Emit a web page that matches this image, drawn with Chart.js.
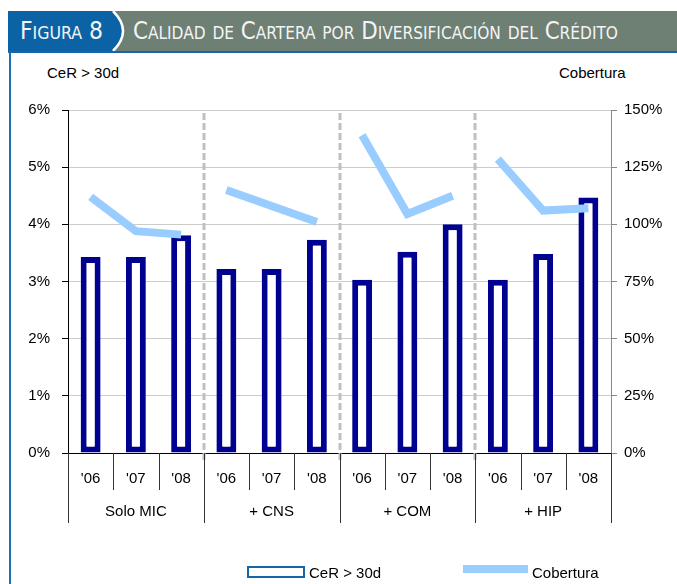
<!DOCTYPE html>
<html>
<head>
<meta charset="utf-8">
<title>Calidad de Cartera por Diversificación del Crédito</title>
<script src="https://cdn.jsdelivr.net/npm/chart.js@4.4.1/dist/chart.umd.min.js"></script>
<style>
body { margin: 0; width: 677px; height: 584px; overflow: hidden; background: #fff; position: relative;
       font-family: "Liberation Sans", Arial, sans-serif; }
#head { position: absolute; left: 8px; top: 11px; width: 669px; height: 40px; background: #6e7f74; }
#head svg { position: absolute; left: 0; top: 0; }
#headLine { position: absolute; left: 8px; top: 51px; width: 669px; height: 2px; background: #1466a8; }
#frame { position: absolute; left: 9px; top: 51px; width: 2px; height: 533px; background: #1a6fb5; }
.ttl { position: absolute; color: #f4f4f4; font-family: "Liberation Sans Narrow", "DejaVu Sans Condensed", sans-serif;
       font-variant: small-caps; font-size: 25px; line-height: 40px; top: 0; white-space: nowrap; transform-origin: 0 50%; }
.lbl { position: absolute; font-size: 15px; color: #000; white-space: nowrap; }
#chartBox { position: absolute; left: 0; top: 0; width: 677px; height: 584px; }
</style>
</head>
<body>
<div id="head">
  <svg width="130" height="40">
    <path d="M0,0 H105 Q125,20 105,40 H0 Z" fill="#0b63a6"/>
    <path d="M105,0 Q125,20 105,40" fill="none" stroke="#fff" stroke-width="2.5"/>
  </svg>
  <div class="ttl" id="t1" style="left:12px">Figura 8</div>
  <div class="ttl" id="t2" style="left:125px">Calidad de Cartera por Diversificación del Crédito</div>
</div>
<div id="headLine"></div>
<div id="frame"></div>
<div class="lbl" style="left:47px; top:64px">CeR &gt; 30d</div>
<div class="lbl" style="left:559px; top:64px">Cobertura</div>

<div id="chartBox"><canvas id="myChart" width="677" height="584"></canvas></div>

<div style="position:absolute; left:247px; top:566px; width:54px; height:8px; border:2px solid #1566a8; background:#fff"></div>
<div class="lbl" style="left:309px; top:564px">CeR &gt; 30d</div>
<div style="position:absolute; left:463px; top:565px; width:65px; height:8px; background:#99ccff"></div>
<div class="lbl" style="left:532px; top:564px">Cobertura</div>

<script>
// data
const groups = ['Solo MIC', '+ CNS', '+ COM', '+ HIP'];
const years = ["'06", "'07", "'08"];
const cer = [3.43, 3.43, 3.81, 3.22, 3.22, 3.73, 3.03, 3.52, 4.0, 3.03, 3.48, 4.47];   // CeR > 30d, %
const cobSoloMic = [112, 97, 95.5];   // Cobertura, %
const cobCns = [115, 108, 101];
const cobCom = [139, 104.5, 112.5];
const cobHip = [128.5, 106, 107];
const yTicks = [0, 1, 2, 3, 4, 5, 6];

// fit header titles to their width in the picture
function fit(id, w) {
    const el = document.getElementById(id);
    el.style.transform = 'scaleX(' + (w / el.getBoundingClientRect().width) + ')';
}
fit('t1', 83);
fit('t2', 485);

const labels = [];
groups.forEach(() => years.forEach(y => labels.push(y)));

const cob = [cobSoloMic, cobCns, cobCom, cobHip];
const lineSets = cob.map((vals, g) => {
    const arr = labels.map(() => null);
    vals.forEach((v, i) => { arr[g * 3 + i] = v; });
    return {
        type: 'line',
        label: 'Cobertura',
        data: arr,
        yAxisID: 'y1',
        borderColor: '#99ccff',
        borderWidth: 8,
        pointRadius: 0,
        pointHoverRadius: 0,
        spanGaps: false,
        fill: false,
        tension: 0,
        order: 0
    };
});

// separators and group names under the axis
const groupAxis = {
    id: 'groupAxis',
    afterDraw(chart) {
        const ctx = chart.ctx, x = chart.scales.x, a = chart.chartArea;
        const step = x.getPixelForValue(1) - x.getPixelForValue(0);
        ctx.save();
        ctx.strokeStyle = '#c0c0c0';
        ctx.lineWidth = 3;
        ctx.setLineDash([7, 3]);
        for (let g = 1; g < groups.length; g++) {
            const px = Math.round(x.getPixelForValue(g * 3) - step / 2);
            ctx.beginPath(); ctx.moveTo(px, a.top + 3); ctx.lineTo(px, a.bottom + 10); ctx.stroke();
        }
        ctx.setLineDash([]);
        ctx.strokeStyle = '#333';
        ctx.lineWidth = 1;
        for (let i = 0; i <= labels.length; i++) {
            const px = Math.round(x.getPixelForValue(i) - step / 2) + 0.5;
            const len = i % 3 === 0 ? 70 : 37;
            ctx.beginPath(); ctx.moveTo(px, a.bottom); ctx.lineTo(px, a.bottom + len); ctx.stroke();
        }
        ctx.fillStyle = '#000';
        ctx.font = '15px "Liberation Sans", Arial, sans-serif';
        ctx.textAlign = 'center';
        ctx.textBaseline = 'middle';
        groups.forEach((g, i) => {
            ctx.fillText(g, x.getPixelForValue(i * 3 + 1), a.bottom + 59);
        });
        ctx.restore();
    }
};

const data = {
    labels: labels,
    datasets: [{
        type: 'bar',
        label: 'CeR > 30d',
        data: cer,
        yAxisID: 'y',
        backgroundColor: '#ffffff',
        borderColor: '#000091',
        borderWidth: 6,
        borderSkipped: false,
        barPercentage: 0.44,
        categoryPercentage: 1,
        order: 2
    }].concat(lineSets)
};

const config = {
    type: 'bar',
    data,
    plugins: [groupAxis],
    options: {
        responsive: false,
        animation: false,
        layout: { padding: { top: 110, left: 0, right: 0, bottom: 0 } },
        plugins: { legend: { display: false }, tooltip: { enabled: false } },
        scales: {
            x: {
                grid: { display: false, drawTicks: false },
                border: { color: '#000', width: 1 },
                ticks: { color: '#000', font: { size: 15 }, padding: 17, maxRotation: 0, autoSkip: false },
                afterFit: s => { s.height = 131; }
            },
            y: {
                position: 'left',
                min: 0, max: 6,
                afterBuildTicks: s => { s.ticks = yTicks.map(v => ({ value: v })); },
                ticks: { color: '#000', font: { size: 15 }, padding: 12, callback: v => v + '%' },
                grid: { color: '#cccccc', tickColor: '#000', tickLength: 6 },
                border: { color: '#000' },
                afterFit: s => { s.width = 68; }
            },
            y1: {
                position: 'right',
                min: 0, max: 150,
                ticks: { stepSize: 25, color: '#000', font: { size: 15 }, padding: 7, callback: v => v + '%' },
                grid: { drawOnChartArea: false, tickColor: '#888', tickLength: 6 },
                border: { color: '#888' },
                afterFit: s => { s.width = 66; }
            }
        }
    }
};

const myChart = new Chart(document.getElementById('myChart'), config);
</script>
</body>
</html>
